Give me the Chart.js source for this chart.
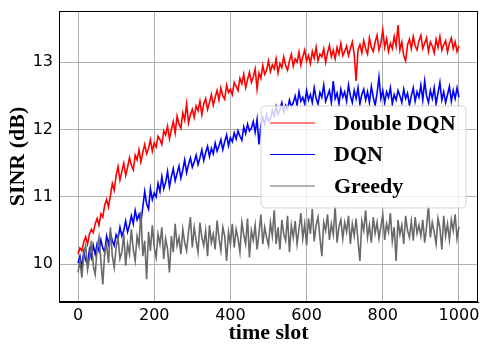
<!DOCTYPE html>
<html lang="en">
<head>
    <meta charset="UTF-8">
    <title>SINR vs time slot</title>
    <script src="https://cdn.jsdelivr.net/npm/chart.js@4.4.0/dist/chart.umd.min.js"></script>
    <style>
        body { margin: 0; background: #fff; }
        #box { width: 482px; height: 344px; }
    </style>
</head>
<body>
<div id="box"><canvas id="sinrChart" width="482" height="344"></canvas></div>
<script>
    // one value every STEP time slots
    const STEP = 5;
    const xTicks = [0, 200, 400, 600, 800, 1000];
    const yTicks = [10, 11, 12, 13];
    const seriesNames = ["Double DQN", "DQN", "Greedy"];

    const doubleDqn = [
        10.15, 10.24, 10.20, 10.33, 10.41, 10.30, 10.45, 10.52, 10.47, 10.60, 10.68, 10.58, 10.75, 10.70, 10.88, 10.96, 10.85, 11.02, 11.20, 11.10, 11.32,
        11.45, 11.25, 11.38, 11.50, 11.32, 11.44, 11.58, 11.47, 11.40, 11.62, 11.55, 11.70, 11.52, 11.66, 11.78, 11.64, 11.72, 11.85, 11.68, 11.80,
        11.74, 11.90, 11.85, 11.78, 11.98, 11.92, 12.05, 11.86, 12.00, 12.12, 11.95, 12.20, 12.08, 12.02, 12.25, 12.14, 12.38, 12.10, 12.22, 12.30,
        12.18, 12.35, 12.28, 12.42, 12.22, 12.38, 12.46, 12.30, 12.40, 12.52, 12.36, 12.48, 12.58, 12.44, 12.62, 12.50, 12.45, 12.66, 12.55, 12.60,
        12.52, 12.70, 12.64, 12.58, 12.76, 12.68, 12.82, 12.62, 12.74, 12.85, 12.70, 12.78, 12.90, 12.60, 12.84, 12.76, 12.95, 12.82, 12.88, 13.02,
        12.86, 12.96, 12.90, 13.05, 12.84, 12.98, 12.92, 13.08, 12.95, 12.88, 13.02, 13.12, 12.94, 13.05, 13.00, 13.15, 12.96, 13.08, 13.18, 13.02,
        13.10, 12.98, 13.16, 13.06, 13.22, 13.02, 13.12, 13.08, 13.20, 13.00, 13.14, 13.25, 13.08, 13.18, 13.05, 13.22, 13.12, 13.28, 13.10, 13.16,
        13.24, 13.10, 13.20, 13.30, 13.12, 12.72, 13.18, 13.26, 13.14, 13.32, 13.20, 13.12, 13.36, 13.22, 13.16, 13.30, 13.40, 13.18, 13.28, 13.48,
        13.22, 13.35, 13.16, 13.28, 13.20, 13.38, 13.24, 13.55, 13.18, 13.30, 13.10, 13.02, 13.26, 13.34, 13.20, 13.38, 13.24, 13.18, 13.32, 13.40,
        13.20, 13.28, 13.36, 13.16, 13.30, 13.24, 13.14, 13.34, 13.22, 13.38, 13.18, 13.26, 13.32, 13.15, 13.28, 13.36, 13.20, 13.30, 13.16, 13.24
    ];

    const dqn = [
        10.02, 10.12, 9.95, 10.18, 10.06, 10.00, 10.22, 10.10, 10.28, 10.15, 10.30, 10.20, 10.36, 10.24, 10.18, 10.42, 10.30, 10.46, 10.35, 10.28, 10.44,
        10.38, 10.55, 10.42, 10.50, 10.64, 10.48, 10.58, 10.72, 10.60, 10.80, 10.66, 10.74, 10.62, 10.85, 11.08, 10.90, 10.82, 11.12, 10.96, 11.06,
        11.00, 11.20, 11.08, 11.30, 11.12, 11.22, 11.38, 11.15, 11.30, 11.42, 11.24, 11.35, 11.46, 11.28, 11.40, 11.55, 11.36, 11.48, 11.58, 11.44,
        11.52, 11.62, 11.48, 11.58, 11.70, 11.54, 11.66, 11.75, 11.60, 11.72, 11.64, 11.80, 11.68, 11.76, 11.85, 11.70, 11.82, 11.92, 11.76, 11.88,
        11.82, 11.95, 11.86, 11.98, 11.90, 11.84, 12.04, 11.94, 12.08, 11.98, 12.02, 12.12, 11.96, 12.15, 11.78, 12.06, 12.18, 12.08, 12.22, 12.12,
        12.16, 12.28, 12.20, 12.34, 12.22, 12.30, 12.40, 12.26, 12.36, 12.30, 12.44, 12.34, 12.40, 12.50, 12.36, 12.56, 12.42, 12.48, 12.38, 12.58,
        12.44, 12.52, 12.40, 12.62, 12.46, 12.38, 12.55, 12.48, 12.66, 12.42, 12.50, 12.58, 12.40, 12.72, 12.46, 12.54, 12.38, 12.60, 12.48, 12.56,
        12.42, 12.66, 12.50, 12.40, 12.58, 12.46, 12.62, 12.38, 12.52, 12.60, 12.44, 12.56, 12.40, 12.64, 12.48, 12.36, 12.54, 12.78, 12.46, 12.58,
        12.40, 12.56, 12.48, 12.62, 12.38, 12.52, 12.44, 12.58, 12.50, 12.40, 12.60, 12.46, 12.54, 12.36, 12.50, 12.62, 12.42, 12.56, 12.48, 12.66,
        12.44, 12.72, 12.50, 12.40, 12.58, 12.46, 12.62, 12.38, 12.54, 12.70, 12.44, 12.56, 12.40, 12.52, 12.64, 12.42, 12.58, 12.46, 12.62, 12.48
    ];

    const greedy = [
        9.88, 10.05, 9.80, 10.15, 10.28, 9.92, 10.10, 10.35, 9.98, 9.85, 10.22, 10.40, 10.05, 9.70, 10.18, 10.30, 10.02, 10.55, 10.12, 9.95, 10.25,
        10.40, 10.08, 10.18, 10.45, 9.98, 10.30, 10.15, 10.52, 10.22, 10.05, 10.42, 10.28, 10.78, 10.12, 10.35, 9.78, 10.48, 10.20, 10.58, 10.25,
        10.10, 10.45, 10.30, 10.55, 10.08, 10.38, 10.22, 9.88, 10.42, 10.18, 10.60, 10.28, 10.40, 10.15, 10.52, 10.32, 10.20, 10.48, 10.70, 10.25,
        10.55, 10.35, 10.18, 10.62, 10.40, 10.28, 10.50, 10.12, 10.58, 10.32, 10.45, 10.22, 10.65, 10.38, 10.20, 10.55, 10.42, 10.05, 10.48, 10.30,
        10.60, 10.25, 10.52, 10.38, 10.18, 10.62, 10.44, 10.30, 10.68, 10.10, 10.50, 10.36, 10.58, 10.22, 10.46, 10.74, 10.30, 10.55, 10.40, 10.28,
        10.62, 10.42, 10.80, 10.30, 10.55, 10.22, 10.66, 10.45, 10.35, 10.72, 10.18, 10.58, 10.40, 10.64, 10.30, 10.52, 10.76, 10.38, 10.60, 10.28,
        10.68, 10.45, 10.82, 10.34, 10.58, 10.70, 10.40, 10.12, 10.62, 10.50, 10.74, 10.36, 10.60, 10.44, 10.86, 10.32, 10.56, 10.66, 10.38, 10.62,
        10.48, 10.72, 10.30, 10.60, 10.42, 10.68, 10.35, 10.05, 10.64, 10.50, 10.80, 10.40, 10.58, 10.32, 10.70, 10.46, 10.62, 10.38, 10.56, 10.74,
        10.36, 10.60, 10.48, 10.76, 10.34, 10.55, 10.05, 10.66, 10.44, 10.58, 10.30, 10.72, 10.50, 10.40, 10.64, 10.35, 10.70, 10.46, 10.58, 10.42,
        10.66, 10.32, 10.56, 10.88, 10.40, 10.62, 10.48, 10.30, 10.68, 10.54, 10.22, 10.72, 10.42, 10.60, 10.36, 10.66, 10.50, 10.74, 10.38, 10.56
    ];

    function toPoints(values) {
        return values.map((v, i) => ({ x: i * STEP, y: v }));
    }

    const serif = "'Liberation Serif', 'Times New Roman', serif";
    const sans = "'DejaVu Sans', sans-serif";

    // box round the plot plus the legend drawn inside it
    const framePlugin = {
        id: "frame",
        afterDatasetsDraw(chart) {
            const ctx = chart.ctx;
            const a = chart.chartArea;
            ctx.save();
            ctx.strokeStyle = "#000";
            ctx.lineWidth = 1;
            ctx.strokeRect(a.left + 0.5, a.top + 0.5, a.right - a.left - 1, a.bottom - a.top - 1);

            const bx = a.right - 217, by = a.top + 95, bw = 205, bh = 102;
            ctx.beginPath();
            ctx.roundRect(bx, by, bw, bh, 4);
            ctx.fillStyle = "rgba(255,255,255,0.8)";
            ctx.fill();
            ctx.strokeStyle = "rgba(204,204,204,0.8)";
            ctx.stroke();

            ctx.font = "bold 22px " + serif;
            ctx.textBaseline = "middle";
            chart.data.datasets.forEach((ds, i) => {
                const y = by + 17 + i * 31.5;
                ctx.strokeStyle = ds.borderColor;
                ctx.lineWidth = 1.2;
                ctx.beginPath();
                ctx.moveTo(bx + 9, y);
                ctx.lineTo(bx + 54, y);
                ctx.stroke();
                ctx.fillStyle = "#000";
                ctx.fillText(ds.label, bx + 73, y + 1);
            });
            ctx.restore();
        }
    };

    const ctx = document.getElementById("sinrChart").getContext("2d");
    const sinrChart = new Chart(ctx, {
        type: "line",
        data: {
            datasets: [
                { label: seriesNames[0], data: toPoints(doubleDqn), borderColor: "#ff0000", order: 2 },
                { label: seriesNames[1], data: toPoints(dqn), borderColor: "#0000ff", order: 1 },
                { label: seriesNames[2], data: toPoints(greedy), borderColor: "#696969", order: 0 }
            ]
        },
        options: {
            responsive: false,
            animation: false,
            layout: { padding: { left: 0, right: 4, top: 11, bottom: 0 } },
            elements: {
                line: { borderWidth: 1.6, tension: 0, fill: false },
                point: { radius: 0 }
            },
            plugins: {
                legend: { display: false },
                tooltip: { enabled: false }
            },
            scales: {
                x: {
                    type: "linear",
                    min: -50,
                    max: 1050,
                    afterBuildTicks: (scale) => { scale.ticks = xTicks.map(v => ({ value: v })); },
                    afterFit: (scale) => { scale.height = 42; scale.paddingLeft = 0; scale.paddingRight = 0; },
                    grid: { color: "#b0b0b0", lineWidth: 1, drawTicks: false },
                    border: { color: "#000", width: 1 },
                    ticks: { color: "#000", font: { family: sans, size: 16 }, padding: 4, maxRotation: 0, callback: (v) => String(v) },
                    title: {
                        display: true, text: "time slot", color: "#000",
                        font: { family: serif, size: 22, weight: "bold", lineHeight: 1 },
                        padding: { top: 0, bottom: 0 }
                    }
                },
                y: {
                    min: 9.44,
                    max: 13.76,
                    afterBuildTicks: (scale) => { scale.ticks = yTicks.map(v => ({ value: v })); },
                    afterFit: (scale) => { scale.width = 59; scale.paddingTop = 0; scale.paddingBottom = 0; },
                    grid: { color: "#b0b0b0", lineWidth: 1, drawTicks: false },
                    border: { color: "#000", width: 1 },
                    ticks: { color: "#000", font: { family: sans, size: 16 }, padding: 6, callback: (v) => String(v) },
                    title: {
                        display: true, text: "SINR (dB)", color: "#000",
                        font: { family: serif, size: 22, weight: "bold", lineHeight: 1 },
                        padding: { top: 7, bottom: 0 }
                    }
                }
            }
        },
        plugins: [framePlugin]
    });
</script>
</body>
</html>
